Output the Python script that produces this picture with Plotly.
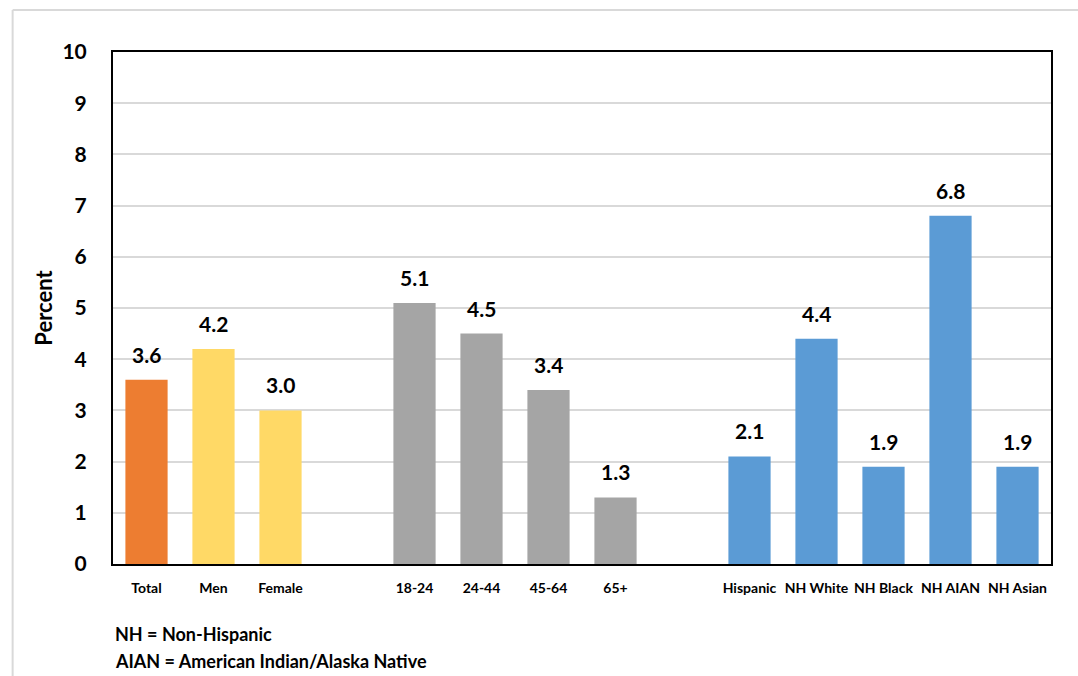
import plotly.graph_objects as go

# Category order on the x axis; blank entries leave a gap between groups
categories = ["Total", "Men", "Female", " ",
              "18-24", "24-44", "45-64", "65+", "  ",
              "Hispanic", "NH White", "NH Black", "NH AIAN", "NH Asian"]

sex_labels = ["Total", "Men", "Female"]
sex_values = [3.6, 4.2, 3.0]
sex_colors = ["#ED7D31", "#FFD966", "#FFD966"]

age_labels = ["18-24", "24-44", "45-64", "65+"]
age_values = [5.1, 4.5, 3.4, 1.3]

race_labels = ["Hispanic", "NH White", "NH Black", "NH AIAN", "NH Asian"]
race_values = [2.1, 4.4, 1.9, 6.8, 1.9]

y_ticks = list(range(0, 11))

FONT = "Lato"

fig = go.Figure()

groups = [
    (sex_labels, sex_values, sex_colors),
    (age_labels, age_values, "#A5A5A5"),
    (race_labels, race_values, "#5B9BD5"),
]
for labels, values, color in groups:
    fig.add_trace(go.Bar(
        x=labels, y=values, marker=dict(color=color, line=dict(width=0)),
        width=0.63, showlegend=False,
    ))
    for lab, val in zip(labels, values):
        fig.add_annotation(
            x=lab, y=val, text=f"{val:.1f}", showarrow=False,
            yanchor="bottom", yshift=11,
            font=dict(family=FONT, size=21, color="#000000", weight="bold"),
        )

fig.update_xaxes(
    type="category", categoryorder="array", categoryarray=categories,
    range=[-0.5, len(categories) - 0.5],
    showgrid=False, ticks="", ticklabelstandoff=10,
    tickfont=dict(family=FONT, size=14, color="#000000", weight="bold"),
    showline=True, linecolor="#000000", linewidth=2, mirror=True,
)
fig.update_yaxes(
    range=[0, 10], tickvals=y_ticks, ticktext=[str(v) for v in y_ticks],
    showgrid=True, gridcolor="#D9D9D9", gridwidth=2, zeroline=False,
    ticks="", ticklabelstandoff=20,
    tickfont=dict(family=FONT, size=21, color="#000000", weight="bold"),
    showline=True, linecolor="#000000", linewidth=2, mirror=True,
    title=dict(text="Percent", standoff=4,
               font=dict(family=FONT, size=22, color="#000000", weight="bold")),
)

# Footnotes
fig.add_annotation(
    xref="paper", yref="paper", x=0, y=-0.137, xanchor="left", yanchor="middle",
    text="NH = Non-Hispanic", showarrow=False,
    font=dict(family=FONT, size=18, color="#000000", weight="bold"),
)
fig.add_annotation(
    xref="paper", yref="paper", x=0, y=-0.19, xanchor="left", yanchor="middle",
    text="AIAN = American Indian/Alaska Native", showarrow=False,
    font=dict(family=FONT, size=18, color="#000000", weight="bold"),
)

# Light outer frame along the top and left edges of the page
fig.add_shape(type="line", xref="paper", yref="paper", x0=-0.107, x1=1.03,
              y0=1.082, y1=1.082, line=dict(color="#D9D9D9", width=2))
fig.add_shape(type="line", xref="paper", yref="paper", x0=-0.107, x1=-0.107,
              y0=1.082, y1=-0.22, line=dict(color="#D9D9D9", width=2))

fig.update_layout(
    width=1078, height=676,
    margin=dict(l=113, r=27, t=52, b=112),
    paper_bgcolor="#FFFFFF", plot_bgcolor="#FFFFFF",
    bargap=0.37,
)

fig.write_html("out.html")
